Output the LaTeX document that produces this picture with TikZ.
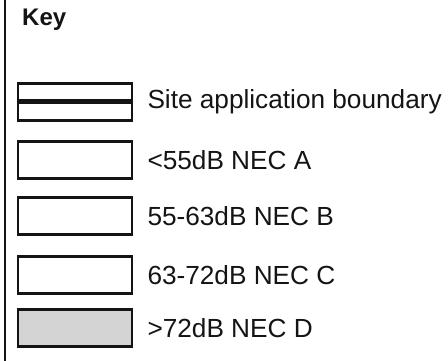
\documentclass[tikz,border=0pt]{standalone}
\usepackage{fontspec}
\setmainfont{Liberation Sans}
\usepackage{tikz}
\usetikzlibrary{positioning}
\definecolor{inkC}{RGB}{20,20,20}
\definecolor{necD}{RGB}{212,212,212}
\tikzset{
  keybox/.style={rectangle, draw=inkC, line width=2.6pt, fill=#1,
                 minimum width=114pt, minimum height=37pt, inner sep=0pt},
  keybox/.default=white,
  keylabel/.style={inner sep=0pt, anchor=west, text=inkC,
                   font=\fontsize{26.2}{31}\selectfont},
}

\begin{document}
\begin{tikzpicture}[x=1pt, y=-1pt]
\useasboundingbox (0,0) rectangle (448,361);
\draw[inkC, line width=1.5pt] (5,0) -- (5,361);
\node[anchor=base west, inner sep=0pt, text=inkC, font=\fontsize{24}{29}\selectfont\bfseries] (key) at (22,26) {Key};
\node[keybox] (b1) at (75,102) {};
\draw[inkC, line width=5pt] (b1.west) -- (b1.east);
\node[keylabel, right=14pt of b1] (l1) {Site application boundary};
\node[keybox] (b2) at (75,160) {};
\node[keylabel, right=14pt of b2] (l2) {<55dB NEC A};
\node[keybox] (b3) at (75,216) {};
\node[keylabel, right=14pt of b3] (l3) {55-63dB NEC B};
\node[keybox] (b4) at (75,275) {};
\node[keylabel, right=14pt of b4] (l4) {63-72dB NEC C};
\node[keybox=necD] (b5) at (75,328) {};
\node[keylabel, right=14pt of b5] (l5) {>72dB NEC D};
\end{tikzpicture}
\end{document}
